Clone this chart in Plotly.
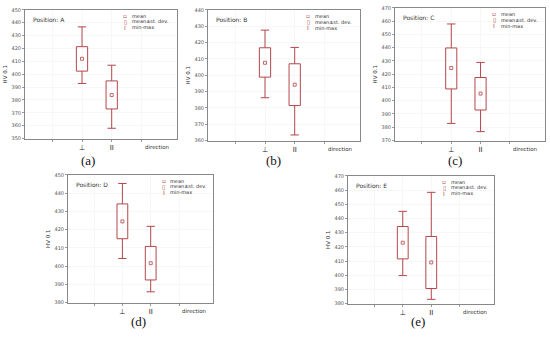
import plotly.graph_objects as go

categories = ["⊥", "II"]
cat_pos = [2, 3]

panels = ["A", "B", "C", "D", "E"]
panel_letters = ["(a)", "(b)", "(c)", "(d)", "(e)"]

mean_vals = {
    "A": [412.0, 383.8],
    "B": [407.6, 394.2],
    "C": [424.7, 405.4],
    "D": [424.5, 401.6],
    "E": [422.9, 409.0],
}
sd_low = {  # mean - st.dev
    "A": [402.4, 373.0],
    "B": [398.8, 381.4],
    "C": [408.9, 393.0],
    "D": [415.0, 392.4],
    "E": [411.5, 390.6],
}
sd_high = {  # mean + st.dev
    "A": [421.4, 394.8],
    "B": [416.8, 407.0],
    "C": [439.8, 417.5],
    "D": [434.1, 410.8],
    "E": [434.3, 427.3],
}
min_vals = {
    "A": [392.8, 358.0],
    "B": [386.2, 363.4],
    "C": [382.9, 376.7],
    "D": [404.2, 385.9],
    "E": [399.7, 383.0],
}
max_vals = {
    "A": [436.8, 407.0],
    "B": [427.6, 417.0],
    "C": [457.9, 428.9],
    "D": [445.3, 421.8],
    "E": [445.0, 458.4],
}
y_ranges = {
    "A": [350, 450],
    "B": [360, 440],
    "C": [370, 470],
    "D": [380, 450],
    "E": [380, 470],
}

W, H = 550, 338
# plot boxes in window pixels: left, right, top, bottom
boxes_px = {
    "A": (25, 177, 7, 138),
    "B": (208, 360, 7, 140),
    "C": (395, 545, 5, 140),
    "D": (68, 213, 175, 305),
    "E": (348, 494, 176, 306),
}
letter_px = {"A": (88, 160), "B": (273, 160), "C": (455, 160), "D": (138, 324), "E": (418, 324)}

RED = "#b3474a"
fig = go.Figure()
layout = {}
annotations = []

def fx(px):
    return px / W

def fy(py):
    return 1 - py / H

for i, p in enumerate(panels):
    n = "" if i == 0 else str(i + 1)
    xa, ya = "x" + n, "y" + n
    l, r, t, b = boxes_px[p]
    dom_x = [fx(l), fx(r)]
    dom_y = [fy(b), fy(t)]
    # mean ± sd box
    fig.add_trace(go.Bar(
        x=cat_pos, base=sd_low[p], y=[h - lo_ for h, lo_ in zip(sd_high[p], sd_low[p])],
        width=0.38, marker=dict(color="rgba(0,0,0,0)", line=dict(color=RED, width=1)),
        showlegend=False, xaxis=xa, yaxis=ya, hoverinfo="skip",
    ))
    # whiskers
    wx, wy = [], []
    for j, c in enumerate(cat_pos):
        wx += [c, c, None, c, c, None]
        wy += [min_vals[p][j], sd_low[p][j], None, sd_high[p][j], max_vals[p][j], None]
    fig.add_trace(go.Scatter(
        x=wx, y=wy, mode="lines", line=dict(color=RED, width=1),
        showlegend=False, xaxis=xa, yaxis=ya, hoverinfo="skip",
    ))
    # caps
    fig.add_trace(go.Scatter(
        x=cat_pos + cat_pos, y=min_vals[p] + max_vals[p], mode="markers",
        marker=dict(symbol="line-ew-open", size=6, color=RED, line=dict(width=1, color=RED)),
        showlegend=False, xaxis=xa, yaxis=ya, hoverinfo="skip",
    ))
    # mean
    fig.add_trace(go.Scatter(
        x=cat_pos, y=mean_vals[p], mode="markers",
        marker=dict(symbol="square-open", size=3, color=RED, line=dict(width=0.8, color=RED)),
        showlegend=False, xaxis=xa, yaxis=ya,
    ))
    lo, hi = y_ranges[p]
    layout["xaxis" + n] = dict(
        domain=dom_x, anchor=ya, range=[0.08, 5.2],
        tickvals=[1, 2, 3, 4], ticktext=["", categories[0], categories[1], ""],
        ticks="outside", ticklen=2, tickcolor="#999",
        tickfont=dict(size=7, color="#222", family="DejaVu Sans"),
        showgrid=True, gridcolor="#f0f0f0", gridwidth=0.5,
        showline=True, linecolor="#888", linewidth=1, mirror=True,
        zeroline=False, fixedrange=True,
    )
    layout["yaxis" + n] = dict(
        domain=dom_y, anchor=xa, range=[lo, hi],
        tickvals=list(range(lo, hi + 1, 10)),
        ticks="outside", ticklen=2, tickcolor="#999",
        tickfont=dict(size=5, color="#555", family="DejaVu Sans"),
        showgrid=True, gridcolor="#f0f0f0", gridwidth=0.5,
        showline=True, linecolor="#888", linewidth=1, mirror=True,
        zeroline=False, fixedrange=True,
        title=dict(text="HV 0.1", font=dict(size=5.5, color="#333", family="DejaVu Sans"), standoff=3),
    )
    annotations.append(dict(
        text="Position: " + p, xref=xa + " domain", yref=ya + " domain",
        x=0.04, y=0.97, xanchor="left", yanchor="top", showarrow=False,
        font=dict(size=6, color="#333", family="DejaVu Sans"),
    ))
    annotations.append(dict(
        text="direction", xref=xa + " domain", yref=ya + " domain",
        x=0.87, y=-0.03, xanchor="center", yanchor="top", showarrow=False,
        font=dict(size=5.5, color="#333", family="DejaVu Sans"),
    ))
    for k, (g, txt) in enumerate([("▫", "mean"), ("▯", "mean±st. dev."), ("I", "min-max")]):
        annotations.append(dict(
            text=g, xref=xa + " domain", yref=ya + " domain",
            x=0.66, y=0.955 - k * 0.045, xanchor="center", yanchor="middle", showarrow=False,
            font=dict(size=6, color=RED, family="DejaVu Sans"),
        ))
        annotations.append(dict(
            text=txt, xref=xa + " domain", yref=ya + " domain",
            x=0.69, y=0.955 - k * 0.045, xanchor="left", yanchor="middle", showarrow=False,
            font=dict(size=5, color="#333", family="DejaVu Sans"),
        ))
    lx, ly = letter_px[p]
    annotations.append(dict(
        text=panel_letters[i], xref="paper", yref="paper",
        x=fx(lx), y=fy(ly), xanchor="center", yanchor="middle", showarrow=False,
        font=dict(size=13, color="#111", family="Liberation Serif"),
    ))

fig.update_layout(
    width=W, height=H, margin=dict(l=0, r=0, t=0, b=0),
    paper_bgcolor="white", plot_bgcolor="white", barmode="overlay",
    annotations=annotations, **layout,
)
fig.write_html(
    "out.html",
    config={"displayModeBar": False, "staticPlot": True},
    post_script="document.body.style.margin='0';document.body.style.overflow='hidden';",
)
